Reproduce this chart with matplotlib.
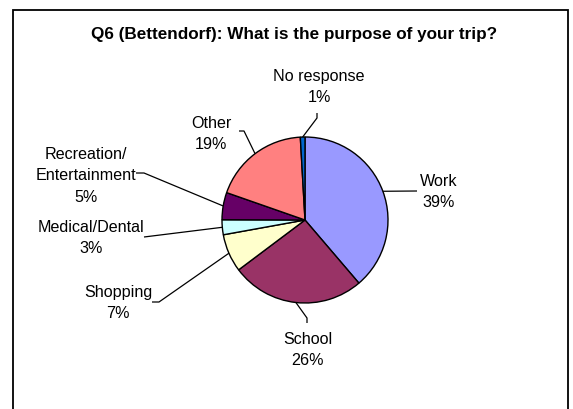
import numpy as np
import matplotlib
matplotlib.use("Agg")
import matplotlib.pyplot as plt
from matplotlib.patches import Rectangle

plt.rcParams['font.family'] = ['Liberation Sans', 'DejaVu Sans']

# survey shares (percent), clockwise from 12 o'clock
categories = ["Work", "School", "Shopping", "Medical/Dental",
              "Recreation/\nEntertainment", "Other", "No response"]
shares = [38.75, 26.0, 7.4, 2.9, 5.3, 18.75, 0.9]
colors = ["#9999FF", "#993366", "#FFFFCC", "#CCFFFF", "#660066", "#FF8080", "#0066CC"]

W, H = 573, 409
fig = plt.figure(figsize=(W / 100, H / 100), dpi=100)
ax = fig.add_axes([0, 0, 1, 1])

def py(y):
    # pixel row (from top) -> data y
    return H - y

cx, cy, r = 305, py(220), 83
wedges, _ = ax.pie(shares, colors=colors, startangle=90, counterclock=False,
                   center=(cx, cy), radius=r, frame=True,
                   wedgeprops=dict(edgecolor='black', linewidth=1.0))
ax.set_xlim(0, W)
ax.set_ylim(0, H)
ax.set_aspect('auto')
ax.axis('off')

# label centre (pixels from top) and leader path start
label_pos = [(439, 192), (308, 350), (118, 303), (91, 238), (86, 176), (211, 134), (319, 87)]
leader_start = [
    [(417, 191)],
    [(307, 323), (307, 318)],
    [(152, 302), (159, 302)],
    [(144, 237)],
    [(136, 173), (144, 173)],
    [(239, 131), (244, 131)],
    [(317, 113), (317, 118)],
]

for cat, val, w, (lx, ly), path in zip(categories, shares, wedges, label_pos, leader_start):
    ang = np.deg2rad((w.theta1 + w.theta2) / 2)
    ex, ey = cx + r * np.cos(ang), cy + r * np.sin(ang)
    xs = [p[0] for p in path] + [ex]
    ys = [py(p[1]) for p in path] + [ey]
    ax.plot(xs, ys, color='black', lw=0.9, solid_capstyle='butt')
    ax.text(lx, py(ly), f"{cat}\n{round(val)}%", ha='center', va='center',
            fontsize=11.6, linespacing=1.55, color='black')

ax.text(294, py(35), "Q6 (Bettendorf): What is the purpose of your trip?",
        ha='center', va='center', fontsize=12.3, fontweight='bold')

ax.add_patch(Rectangle((13, -10), 568 - 13, py(10) + 10, fill=False,
                       edgecolor='black', lw=1.3))

fig.savefig("out.png", dpi=100)
